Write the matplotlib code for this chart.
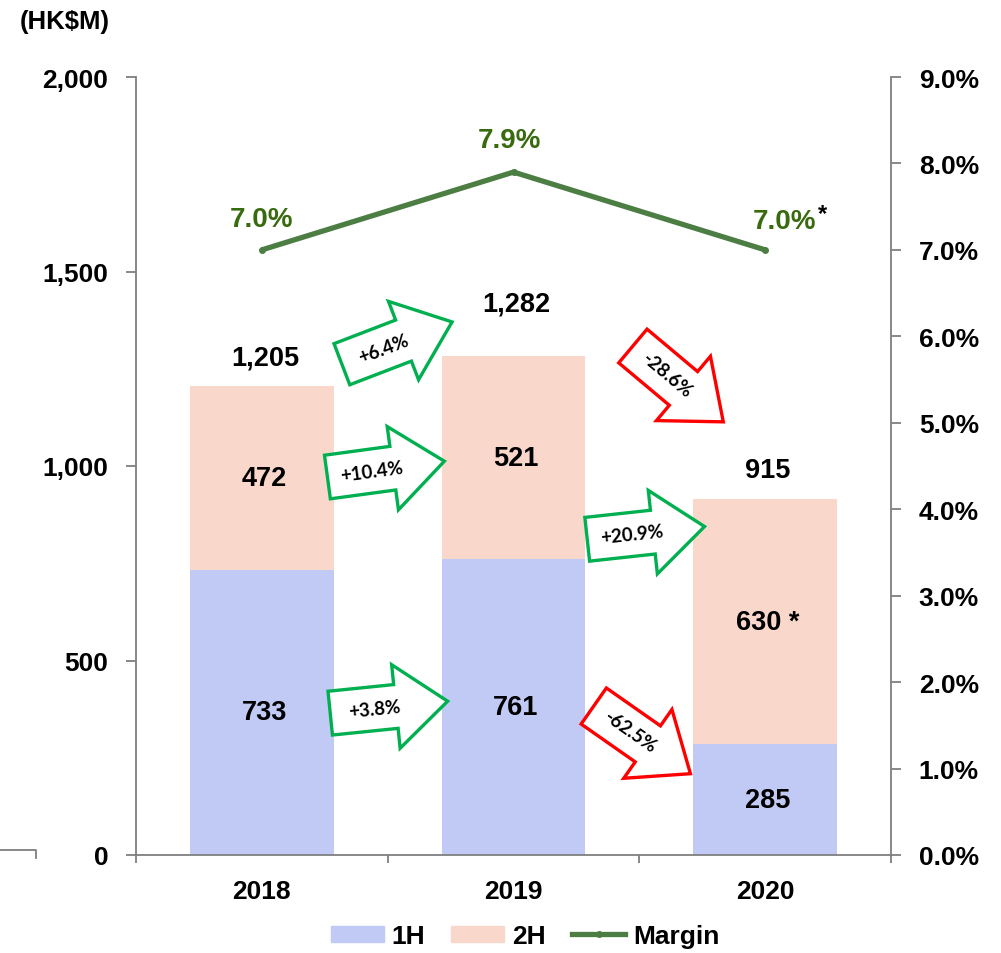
import matplotlib
matplotlib.use("Agg")
import matplotlib.pyplot as plt
from matplotlib.patches import Polygon
from matplotlib.lines import Line2D
from matplotlib.transforms import Affine2D, ScaledTranslation
from matplotlib.ticker import FuncFormatter, FixedLocator

plt.rcParams['font.family'] = ['Liberation Sans', 'DejaVu Sans']
plt.rcParams['font.weight'] = 'bold'

# ---- data ----
years = ["2018", "2019", "2020"]
h1 = [733, 761, 285]
h2 = [472, 521, 630]
totals = [1205, 1282, 915]
margin = [7.0, 7.9, 7.0]
h2_labels = ["472", "521", "630 *"]
margin_labels = ["7.0%", "7.9%", "7.0%"]
left_ticks = [0, 500, 1000, 1500, 2000]
right_ticks = [0, 1, 2, 3, 4, 5, 6, 7, 8, 9]

C1 = "#C0CAF5"
C2 = "#F9D8CB"
CLINE = "#4C7E44"
CLAB = "#386A0E"
CAX = "#7F7F7F"
GREEN = "#00B050"
RED = "#FF0000"

W, H = 1001, 954
fig = plt.figure(figsize=(W / 100, H / 100), dpi=100)
ax = fig.add_axes([136 / W, (954 - 856) / H, (891 - 136) / W, (856 - 78) / H])

x = list(range(len(years)))
bw = 0.572
ax.bar(x, h1, width=bw, color=C1, zorder=2, label="1H")
ax.bar(x, h2, width=bw, bottom=h1, color=C2, zorder=2, label="2H")
ax.set_xlim(-0.5, 2.5)
ax.set_ylim(0, 2000)

FS = 19
ax.set_yticks(left_ticks)
ax.set_yticklabels([f"{v:,}" for v in left_ticks], fontsize=FS, fontweight='bold')
ax.set_xticks(x)
ax.set_xticklabels(years, fontsize=FS, fontweight='bold')
ax.xaxis.set_minor_locator(FixedLocator([-0.5, 0.5, 1.5, 2.5]))
ax.tick_params(axis='x', which='major', length=0, pad=17)
ax.tick_params(axis='x', which='minor', length=6, width=1.3, color=CAX, direction='out')
ax.tick_params(axis='y', length=7, width=1.3, color=CAX, direction='out', pad=13)
for s in ['top', 'right']:
    ax.spines[s].set_visible(False)
for s in ['left', 'bottom']:
    ax.spines[s].set_color(CAX)
    ax.spines[s].set_linewidth(1.3)

# segment labels
for i in x:
    ax.text(i + 0.01, h1[i] / 2, f"{h1[i]:,}", ha='center', va='center', fontsize=FS + 0.5, fontweight='bold', zorder=5)
    ax.text(i + 0.01, h1[i] + h2[i] / 2, h2_labels[i], ha='center', va='center', fontsize=FS + 0.5, fontweight='bold', zorder=5)
tot_off = [29, 53, 29]
for i in x:
    ax.annotate(f"{totals[i]:,}", xy=(i, totals[i]), xytext=(3, tot_off[i]), textcoords='offset pixels',
                ha='center', va='center', fontsize=FS + 0.5, fontweight='bold', zorder=5)

# margin line on right axis
ax2 = ax.twinx()
ax2.set_ylim(0, 9)
ax2.set_yticks(right_ticks)
ax2.yaxis.set_major_formatter(FuncFormatter(lambda v, p: f"{v:.1f}%"))
for lab in ax2.get_yticklabels():
    lab.set_fontsize(FS)
    lab.set_fontweight('bold')
ax2.tick_params(axis='y', length=7, width=1.3, color=CAX, direction='out', pad=13, labelsize=FS)
for s in ['top', 'left', 'bottom']:
    ax2.spines[s].set_visible(False)
ax2.spines['right'].set_color(CAX)
ax2.spines['right'].set_linewidth(1.3)
ax2.plot(x, margin, color=CLINE, lw=3.8, marker='o', markersize=4, zorder=4, label="Margin",
         solid_capstyle='butt')
m_off = [(0, 31), (-4, 32), (19, 29)]
for i in x:
    ax2.annotate(margin_labels[i], xy=(i, margin[i]), xytext=m_off[i], textcoords='offset pixels',
                 ha='center', va='center', fontsize=FS + 1, fontweight='bold', color=CLAB, zorder=5)
ax2.annotate("*", xy=(2, margin[2]), xytext=(57, 36), textcoords='offset pixels',
             ha='center', va='center', fontsize=FS - 2, fontweight='bold', color='black', zorder=5)

# growth arrows
def pct(a, b):
    v = (b / a - 1) * 100
    return f"{v:+.1f}%"

arrows = [
    (pct(h1[0], h1[1]), 0.505, 380, 5.8, GREEN),
    (pct(h2[0], h2[1]), 0.493, 992, 7.7, GREEN),
    (pct(totals[0], totals[1]), 0.537, 1316, 21, GREEN),
    (pct(h1[1], h1[2]), 1.511, 296, -35, RED),
    (pct(h2[1], h2[2]), 1.526, 828, 6.2, GREEN),
    (pct(totals[1], totals[2]), 1.654, 1211, -40, RED),
]
shape = [(-59, -22), (7, -22), (7, -42), (59, 0), (7, 42), (7, 22), (-59, 22)]
for txt, cx, cy, ang, col in arrows:
    tr = Affine2D().rotate_deg(ang) + ScaledTranslation(cx, cy, ax.transData)
    poly = Polygon(shape, closed=True, facecolor='white', edgecolor=col, lw=2.4,
                   transform=tr, zorder=6, joinstyle='miter')
    ax.add_patch(poly)
    tt = Affine2D().rotate_deg(ang) + ScaledTranslation(cx, cy, ax.transData)
    ax.text(-14, 0, txt, transform=tt, rotation=ang, rotation_mode='anchor',
            ha='center', va='center', fontsize=13.5, fontweight='bold', family=['Lato', 'DejaVu Sans'],
            color='black', zorder=7)

# unit label
fig.text(20 / W, 1 - 22 / H, "(HK$M)", ha='left', va='center', fontsize=18.5, fontweight='bold')

# stray axis fragment at bottom-left
fig.add_artist(Line2D([0, 36 / W, 36 / W], [1 - 851 / H, 1 - 851 / H, 1 - 859 / H], color=CAX, lw=1.3))

# legend
handles = [plt.Rectangle((0, 0), 1, 1, color=C1), plt.Rectangle((0, 0), 1, 1, color=C2),
           Line2D([0], [0], color=CLINE, lw=3.8, marker='o', markersize=4)]
fig.legend(handles, ["1H", "2H", "Margin"], loc='center', bbox_to_anchor=(525 / W, 1 - 937 / H),
           ncol=3, frameon=False, prop={'size': FS, 'weight': 'bold'},
           handlelength=2.0, handleheight=0.55, handletextpad=0.3, columnspacing=1.0)

fig.savefig("out.png", dpi=100)
